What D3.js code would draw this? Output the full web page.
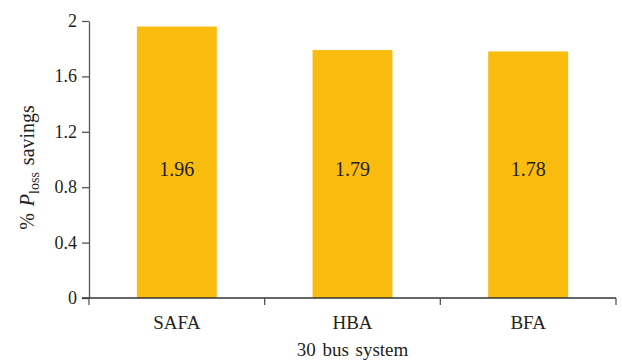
<!DOCTYPE html>
<html>
<head>
<meta charset="utf-8">
<script src="https://cdn.jsdelivr.net/npm/d3@7"></script>
<style>
  html, body { margin: 0; padding: 0; background: #fff; }
  svg { display: block; }
  text { font-family: "Liberation Serif", "Times New Roman", serif; fill: #231f20; }
</style>
</head>
<body>
<script>
// Power-loss savings per algorithm on the 30 bus system
const categories = ["SAFA", "HBA", "BFA"];
const savings = [1.96, 1.79, 1.78];
const yTicks = [0, 0.4, 0.8, 1.2, 1.6, 2];
const yTickLabels = ["0", "0.4", "0.8", "1.2", "1.6", "2"];
// value labels sit on one common level across the bars
const labelLevel = 0.925;

const width = 622, height = 362;
const margin = { left: 89, right: 6, top: 21, bottom: 64 };

const svg = d3.select("body").append("svg")
  .attr("width", width).attr("height", height);

const x = d3.scaleBand()
  .domain(categories)
  .range([margin.left, width - margin.right])
  .paddingInner(0.545)
  .paddingOuter(0.2725);

const y = d3.scaleLinear()
  .domain([0, 2])
  .range([height - margin.bottom, margin.top]);

// bars
svg.append("g").selectAll("rect")
  .data(categories)
  .join("rect")
  .attr("x", d => x(d))
  .attr("width", x.bandwidth())
  .attr("y", (d, i) => y(savings[i]))
  .attr("height", (d, i) => y(0) - y(savings[i]))
  .attr("fill", "#fbbc10");

// value labels inside bars
svg.append("g").selectAll("text")
  .data(categories)
  .join("text")
  .attr("x", d => x(d) + x.bandwidth() / 2)
  .attr("y", y(labelLevel))
  .attr("dy", "0.33em")
  .attr("text-anchor", "middle")
  .attr("font-size", 20)
  .text((d, i) => savings[i].toFixed(2));

// y axis
const yAxis = svg.append("g")
  .attr("transform", `translate(${margin.left},0)`)
  .call(d3.axisLeft(y).tickValues(yTicks)
    .tickFormat((d, i) => yTickLabels[i])
    .tickSize(7).tickSizeOuter(0).tickPadding(5));
yAxis.select(".domain").attr("stroke", "#555").attr("stroke-width", 1.3);
yAxis.selectAll(".tick line").attr("stroke", "#555").attr("stroke-width", 1.3);
yAxis.selectAll(".tick text").attr("font-size", 18)
  .attr("dy", "0.3em")
  .attr("font-family", "Liberation Serif, serif").attr("fill", "#231f20");

// x axis: ticks at category boundaries
const xAxisG = svg.append("g")
  .attr("transform", `translate(0,${y(0)})`);
const [x0, x1] = x.range();
const bounds = [x0].concat(categories.map(d => x(d) + x.bandwidth() + x.step() * x.paddingInner() / 2));
bounds[bounds.length - 1] = x1;
xAxisG.append("line")
  .attr("x1", x0 - 7).attr("x2", x1)
  .attr("stroke", "#333").attr("stroke-width", 1.3);
xAxisG.selectAll("line.tk")
  .data(bounds)
  .join("line")
  .attr("class", "tk")
  .attr("x1", d => d).attr("x2", d => d)
  .attr("y1", 0).attr("y2", 7)
  .attr("stroke", "#555").attr("stroke-width", 1.3);
xAxisG.selectAll("text.cat")
  .data(categories)
  .join("text")
  .attr("class", "cat")
  .attr("x", d => x(d) + x.bandwidth() / 2)
  .attr("y", 31)
  .attr("text-anchor", "middle")
  .attr("font-size", 19)
  .text(d => d);

// axis titles
svg.append("text")
  .attr("x", (x0 + x1) / 2)
  .attr("y", 356)
  .attr("text-anchor", "middle")
  .attr("font-size", 19)
  .attr("word-spacing", 2)
  .text("30 bus system");

const yTitle = svg.append("text")
  .attr("transform", `translate(34,167.5) rotate(-90)`)
  .attr("text-anchor", "middle")
  .attr("font-size", 20)
  .attr("word-spacing", 2);
yTitle.append("tspan").text("% ");
yTitle.append("tspan").attr("font-style", "italic").text("P");
yTitle.append("tspan").attr("font-size", 14).attr("dy", 5).text("loss");
yTitle.append("tspan").attr("dy", -5).text(" savings");
</script>
</body>
</html>
